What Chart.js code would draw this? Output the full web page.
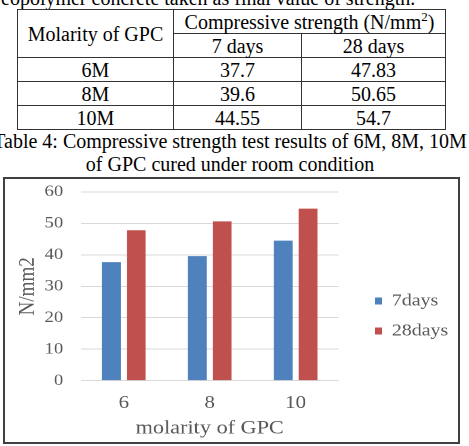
<!DOCTYPE html>
<html>
<head>
<meta charset="utf-8">
<script src="https://cdn.jsdelivr.net/npm/chart.js"></script>
<style>
html, body { margin: 0; padding: 0; background: #fff; }
body { width: 469px; height: 446px; position: relative; overflow: hidden;
       font-family: "Liberation Serif", "Times New Roman", serif; color: #000; }
#lead { position: absolute; left: 1px; top: -11px; font-size: 20px; line-height: 19px; white-space: nowrap; }
#tbl { position: absolute; left: 17px; top: 9px; width: 428px; border-collapse: collapse;
       table-layout: fixed; font-size: 20px; }
#tbl td { border: 1px solid #333; padding: 0; height: 23px; line-height: 22px; text-align: center; }
#tbl sup { font-size: 13px; line-height: 0; }
#cap { position: absolute; left: -70px; width: 600px; top: 130px; text-align: center;
       font-size: 20px; line-height: 23px; white-space: nowrap; }
#frame { position: absolute; left: 3px; top: 177px; width: 453px; height: 263px;
         border: 2px solid #404040; overflow: hidden; }
#wrap { position: absolute; left: 0; top: 0; width: 387px; height: 263px; }
#strength_Chart { transform: scaleX(1.1705); transform-origin: 0 0; }
</style>
</head>
<body>
<div id="lead">eopolymer concrete taken as final value of strength.</div>
<table id="tbl">
  <colgroup><col style="width:156px"><col style="width:128px"><col style="width:144px"></colgroup>
  <tbody id="tbody">
    <tr><td rowspan="2">Molarity of GPC</td><td colspan="2">Compressive strength (N/mm<sup>2</sup>)</td></tr>
    <tr><td>7 days</td><td>28 days</td></tr>
  </tbody>
</table>
<div id="cap">Table 4: Compressive strength test results of 6M, 8M, 10M<br>of GPC cured under room condition</div>
<div id="frame"><div id="wrap"><canvas id="strength_Chart"></canvas></div></div>

<script>
const categories = ['6', '8', '10'];
const molarityLabels = ['6M', '8M', '10M'];
const seriesNames = ['7days', '28days'];
const strength7 = [37.7, 39.6, 44.55];
const strength28 = [47.83, 50.65, 54.7];
const seriesColors = ['#4F81BD', '#C0504D'];
const yMin = 0, yMax = 60, yStep = 10;

// table rows
const tbody = document.getElementById('tbody');
molarityLabels.forEach((m, i) => {
    const tr = document.createElement('tr');
    [m, String(strength7[i]), String(strength28[i])].forEach(v => {
        const td = document.createElement('td');
        td.textContent = v;
        tr.appendChild(td);
    });
    tbody.appendChild(tr);
});

const serif = '"Liberation Serif", "Times New Roman", serif';
Chart.defaults.font.family = serif;
Chart.defaults.color = '#595959';

const ctx = document.getElementById('strength_Chart');

function Bar_Chart() {
    new Chart(ctx, {
        type: 'bar',
        data: {
            labels: categories,
            datasets: [
                { label: seriesNames[0], data: strength7, backgroundColor: seriesColors[0],
                  categoryPercentage: 0.577, barPercentage: 0.76 },
                { label: seriesNames[1], data: strength28, backgroundColor: seriesColors[1],
                  categoryPercentage: 0.577, barPercentage: 0.76 }
            ]
        },
        options: {
            responsive: true,
            maintainAspectRatio: false,
            animation: false,
            devicePixelRatio: 2,
            layout: { padding: { left: 1, top: 13, right: 0, bottom: 2 } },
            plugins: {
                legend: {
                    position: 'right',
                    maxWidth: 84,
                    labels: { boxWidth: 6, boxHeight: 7, padding: 13, color: '#595959',
                              font: { family: serif, size: 17 } }
                },
                tooltip: { enabled: false }
            },
            scales: {
                x: {
                    grid: { display: false, drawTicks: true, tickLength: 12 },
                    border: { display: false },
                    ticks: { padding: 0, font: { family: serif, size: 18 } },
                    title: { display: true, text: 'molarity of GPC', color: '#595959',
                             font: { family: serif, size: 19 }, padding: { top: 3, bottom: 0 } }
                },
                y: {
                    min: yMin, max: yMax,
                    ticks: { stepSize: yStep, padding: 3, font: { family: serif, size: 16 } },
                    grid: { color: '#D9D9D9', drawTicks: true, tickLength: 12, tickColor: 'rgba(0,0,0,0)' },
                    border: { display: false },
                    title: { display: true, text: 'N/mm2', color: '#595959',
                             font: { family: serif, size: 19 }, padding: { top: 7, bottom: 0 } }
                },
                // empty spacer between plot and legend
                gap: {
                    position: 'right',
                    grid: { display: false },
                    border: { display: false },
                    ticks: { display: false },
                    afterFit: s => { s.width = 18; }
                }
            }
        }
    });
}
Bar_Chart()
</script>
</body>
</html>
